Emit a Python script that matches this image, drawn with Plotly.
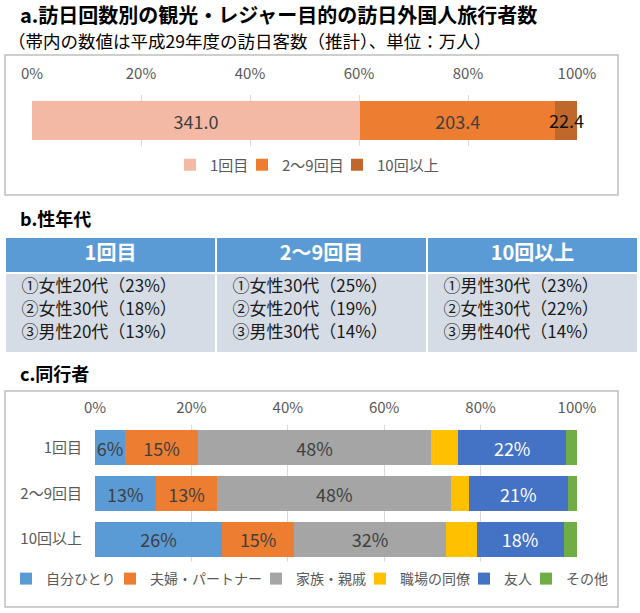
import plotly.graph_objects as go

W, H = 640, 613


def px(x):
    return x / W


def py(y):
    return 1 - y / H


FONT = "Noto Sans CJK JP"
TICK_COLOR = "#595959"

# ---------------- data ----------------
tick_values = [0, 20, 40, 60, 80, 100]
tick_labels = ["0%", "20%", "40%", "60%", "80%", "100%"]

# a. visitors by number of visits (10k persons)
a_categories = ["1回目", "2～9回目", "10回以上"]
a_values = [341.0, 203.4, 22.4]
a_colors = ["#F4B9A5", "#ED7D31", "#C0672C"]
a_text_colors = ["#404040", "#404040", "#111111"]

# b. top gender/age groups
b_headers = ["1回目", "2～9回目", "10回以上"]
b_rank1 = ["①女性20代（23%）", "①女性30代（25%）", "①男性30代（23%）"]
b_rank2 = ["②女性30代（18%）", "②女性20代（19%）", "②女性30代（22%）"]
b_rank3 = ["③男性20代（13%）", "③男性30代（14%）", "③男性40代（14%）"]

# c. travel companions (%)
c_categories = ["1回目", "2～9回目", "10回以上"]
c_series = ["自分ひとり", "夫婦・パートナー", "家族・親戚", "職場の同僚", "友人", "その他"]
c_alone = [6.2, 12.6, 26.4]
c_couple = [15.2, 12.8, 14.9]
c_family = [48.3, 48.5, 31.5]
c_work = [5.7, 3.6, 6.4]
c_friend = [22.3, 20.6, 18.0]
c_other = [2.3, 1.9, 2.8]
c_colors = ["#5B9BD5", "#ED7D31", "#A5A5A5", "#FFC000", "#4472C4", "#70AD47"]
c_text_colors = ["#404040", "#404040", "#404040", "#404040", "#FFFFFF", "#404040"]
c_labelled = [True, True, True, False, True, False]

# ---------------- layout constants ----------------
# legend placement (pixel x where each legend entry's text starts)
a_legend_text_x = [210, 282, 377]
c_legend_text_x = [46, 150, 296, 400, 504, 566]
LEGEND_TEXT_OFFSET = 40

# table (section b) geometry in pixels, measured from the table top
B_TOP, B_LEFT, B_RIGHT = 237, 5, 638
B_HEADER_H, B_BODY_H = 36, 80
B_LINE_Y = [51, 74, 97]          # centre of the three ranking lines
B_TEXT_INSET = 0.078             # fraction of a column before body text

# ---------------- figure ----------------
fig = go.Figure()

a_total = sum(a_values)
a_pct = [v / a_total * 100 for v in a_values]

annotations = []
legend_layouts = {}
cum = 0.0
for i, (name, pct, val, col, tcol) in enumerate(
        zip(a_categories, a_pct, a_values, a_colors, a_text_colors)):
    lname = "legend" if i == 0 else f"legend{i + 1}"
    fits = pct > 8
    fig.add_trace(go.Bar(
        x=[pct], y=[0], orientation="h", name=name,
        marker=dict(color=col, line=dict(width=0)),
        width=0.78,
        text=[f"{val:.1f}"] if fits else None,
        textposition="inside", insidetextanchor="middle",
        textangle=0, constraintext="none", cliponaxis=False,
        textfont=dict(family=FONT, size=18, color=tcol),
        xaxis="x", yaxis="y", legend=lname, hoverinfo="skip"))
    if not fits:
        # narrow segment: label centred on the segment, overflowing it
        annotations.append(dict(
            text=f"{val:.1f}", x=cum + pct / 2, y=0, xref="x", yref="y",
            showarrow=False, xanchor="center", yanchor="middle",
            font=dict(family=FONT, size=18, color=tcol)))
    cum += pct
    legend_layouts[lname] = dict(x=px(a_legend_text_x[i] - LEGEND_TEXT_OFFSET),
                                 y=py(165), size=15)

c_data = [c_alone, c_couple, c_family, c_work, c_friend, c_other]
for j, (name, vals, col, tcol, lab) in enumerate(
        zip(c_series, c_data, c_colors, c_text_colors, c_labelled)):
    lname = f"legend{j + 4}"
    fig.add_trace(go.Bar(
        x=vals, y=c_categories, orientation="h", name=name,
        marker=dict(color=col, line=dict(width=0)),
        width=0.76,
        text=[f"{round(v)}%" for v in vals] if lab else None,
        textposition="inside", insidetextanchor="middle",
        textangle=0, constraintext="none", cliponaxis=False,
        textfont=dict(family=FONT, size=18, color=tcol),
        xaxis="x2", yaxis="y2", legend=lname, hoverinfo="skip"))
    legend_layouts[lname] = dict(x=px(c_legend_text_x[j] - LEGEND_TEXT_OFFSET),
                                 y=py(579), size=14)

# b. table: cell fills as a heatmap grid, texts as text-only scatter traces
n_cols = len(b_headers)
col_edges = list(range(n_cols + 1))
fig.add_trace(go.Heatmap(
    z=[[0] * n_cols, [1] * n_cols], x=col_edges,
    y=[0, B_HEADER_H, B_HEADER_H + B_BODY_H],
    colorscale=[[0, "#5B9BD5"], [1, "#D6DCE5"]], zmin=0, zmax=1,
    showscale=False, xgap=2, ygap=2, hoverinfo="skip",
    xaxis="x3", yaxis="y3", showlegend=False))
fig.add_trace(go.Scatter(
    x=[c + 0.5 for c in range(n_cols)], y=[B_HEADER_H / 2] * n_cols,
    mode="text", text=[f"<b>{h}</b>" for h in b_headers],
    textposition="middle center",
    textfont=dict(family=FONT, size=20, color="white"),
    xaxis="x3", yaxis="y3", showlegend=False, hoverinfo="skip"))
for r, ranks in enumerate([b_rank1, b_rank2, b_rank3]):
    fig.add_trace(go.Scatter(
        x=[c + B_TEXT_INSET for c in range(n_cols)],
        y=[B_LINE_Y[r]] * n_cols,
        mode="text", text=ranks, textposition="middle right",
        textfont=dict(family=FONT, size=17, color="#1A1A1A"),
        cliponaxis=False,
        xaxis="x3", yaxis="y3", showlegend=False, hoverinfo="skip"))

axis_common = dict(range=[0, 100], tickvals=tick_values, ticktext=tick_labels,
                   side="top", showgrid=True, gridcolor="#D9D9D9", gridwidth=1,
                   zeroline=False, showline=False, ticks="", automargin=False,
                   tickfont=dict(family=FONT, size=15, color=TICK_COLOR),
                   fixedrange=True)

title_font = dict(family=FONT, color="#000000")
annotations += [
    dict(text="<b>a.訪日回数別の観光・レジャー目的の訪日外国人旅行者数</b>",
         x=px(18), y=py(14), xref="paper", yref="paper",
         xanchor="left", yanchor="middle", showarrow=False,
         font=dict(size=20, **title_font)),
    dict(text="（帯内の数値は平成29年度の訪日客数（推計）、単位：万人）",
         x=px(6), y=py(40), xref="paper", yref="paper",
         xanchor="left", yanchor="middle", showarrow=False,
         font=dict(size=17.5, **title_font)),
    dict(text="<b>b.性年代</b>",
         x=px(18), y=py(218), xref="paper", yref="paper",
         xanchor="left", yanchor="middle", showarrow=False,
         font=dict(size=18, **title_font)),
    dict(text="<b>c.同行者</b>",
         x=px(18), y=py(373), xref="paper", yref="paper",
         xanchor="left", yanchor="middle", showarrow=False,
         font=dict(size=18, **title_font)),
]

layout = dict(
    width=W, height=H,
    margin=dict(l=0, r=0, t=0, b=0, pad=0, autoexpand=False),
    autosize=False,
    paper_bgcolor="white", plot_bgcolor="white",
    barmode="stack", showlegend=True,
    font=dict(family=FONT, color="#000000"),
    xaxis=dict(domain=[px(32), px(577)], anchor="y", ticklabelstandoff=12,
               **axis_common),
    yaxis=dict(domain=[py(146), py(95)], anchor="x", range=[-0.5, 0.5],
               showticklabels=False, showgrid=False, zeroline=False,
               automargin=False, fixedrange=True),
    xaxis2=dict(domain=[px(95), px(577)], anchor="y2", ticklabelstandoff=8,
                **axis_common),
    yaxis2=dict(domain=[py(562), py(425)], anchor="x2",
                categoryorder="array", categoryarray=c_categories,
                autorange="reversed", showgrid=False, zeroline=False,
                ticks="", ticklabelstandoff=12, automargin=False,
                tickfont=dict(family=FONT, size=15, color=TICK_COLOR),
                fixedrange=True),
    xaxis3=dict(domain=[px(B_LEFT), px(B_RIGHT)], anchor="y3",
                range=[0, n_cols], visible=False, automargin=False,
                fixedrange=True),
    yaxis3=dict(domain=[py(B_TOP + B_HEADER_H + B_BODY_H), py(B_TOP)],
                anchor="x3", range=[B_HEADER_H + B_BODY_H, 0],
                visible=False, automargin=False, fixedrange=True),
    shapes=[
        dict(type="rect", xref="paper", yref="paper",
             x0=px(5), x1=px(618), y0=py(195), y1=py(55),
             line=dict(color="#BFBFBF", width=1.5), fillcolor="rgba(0,0,0,0)",
             layer="below"),
        dict(type="rect", xref="paper", yref="paper",
             x0=px(5), x1=px(618), y0=py(607), y1=py(391),
             line=dict(color="#BFBFBF", width=1.5), fillcolor="rgba(0,0,0,0)",
             layer="below"),
    ],
    annotations=annotations,
)

for lname, pos in legend_layouts.items():
    layout[lname] = dict(x=pos["x"], y=pos["y"], xanchor="left",
                         yanchor="middle", orientation="h",
                         xref="paper", yref="paper",
                         bgcolor="rgba(0,0,0,0)", borderwidth=0,
                         itemwidth=30,
                         font=dict(family=FONT, size=pos["size"],
                                   color=TICK_COLOR))

fig.update_layout(**layout)
fig.write_html(
    "out.html",
    config={"displayModeBar": False},
    post_script="document.body.style.margin='0';"
                "document.documentElement.style.overflow='hidden';"
                "document.body.style.overflow='hidden';")
